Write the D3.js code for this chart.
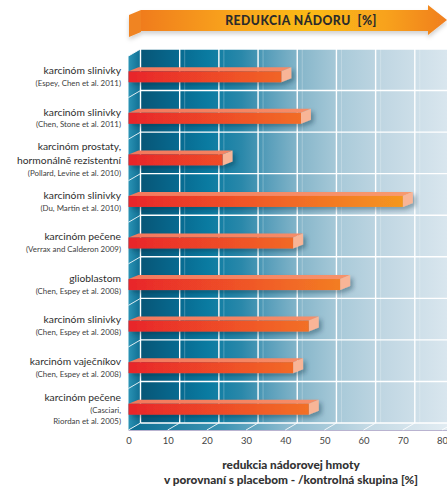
<!DOCTYPE html>
<html><head><meta charset="utf-8">
<script src="https://cdn.jsdelivr.net/npm/d3@7/dist/d3.min.js"></script>
<style>
html,body{margin:0;padding:0;background:#fff;}
svg{display:block;font-family:Lato,"Open Sans",sans-serif;}
</style></head>
<body>
<script>
// ---- data ----
const names = [
  ["karcinóm slinivky"],
  ["karcinóm slinivky"],
  ["karcinóm prostaty,", "hormonálně rezistentní"],
  ["karcinóm slinivky"],
  ["karcinóm pečene"],
  ["glioblastom"],
  ["karcinóm slinivky"],
  ["karcinóm vaječníkov"],
  ["karcinóm pečene"]
];
const refs = [
  ["(Espey, Chen et al. 2011)"],
  ["(Chen, Stone et al. 2011)"],
  ["(Pollard, Levine et al. 2010)"],
  ["(Du, Martin et al. 2010)"],
  ["(Verrax and Calderon 2009)"],
  ["(Chen, Espey et al. 2008)"],
  ["(Chen, Espey et al. 2008)"],
  ["(Chen, Espey et al. 2008)"],
  ["(Casciari,", "Riordan et al. 2005)"]
];
const values = [39, 44, 24, 70, 42, 54, 46, 42, 46];
const ticks = [0, 10, 20, 30, 40, 50, 60, 70, 80];
const headerText = "REDUKCIA NÁDORU  [%]";
const axisTitle = ["redukcia nádorovej hmoty", "v porovnaní s placebom - /kontrolná skupina [%]"];

// ---- layout ----
const W = 447, H = 488;
const depth = {dx: 12, dy: -7};
const bev = {dx: 10, dy: -4};
const x = d3.scaleLinear().domain([0, 80]).range([128.5, 442]);
const y = d3.scaleBand().domain(d3.range(values.length)).range([56, 430]).paddingInner(0);
const barH = 11;
const plotTop = y.range()[0], plotBot = y.range()[1];

const svg = d3.select("body").append("svg").attr("width", W).attr("height", H);
const defs = svg.append("defs");

function lin(id, stops, x1, x2, y1, y2) {
  const g = defs.append("linearGradient").attr("id", id).attr("gradientUnits", "userSpaceOnUse")
    .attr("x1", x1).attr("x2", x2).attr("y1", y1).attr("y2", y2);
  stops.forEach(s => g.append("stop").attr("offset", s[0]).attr("stop-color", s[1]));
}
const bx0 = x(0) + depth.dx;
lin("wall", [[0, "#075677"], [0.12, "#07698f"], [0.22, "#0a7ba1"], [0.33, "#2a88aa"], [0.42, "#5a9fbb"], [0.52, "#86b6ca"], [0.65, "#a9cad9"], [0.8, "#c1d7e3"], [1, "#d9e6ee"]], bx0, W, 0, 0);
lin("floor", [[0, "#0b6e92"], [0.3, "#3f95b4"], [0.5, "#8dbbcf"], [0.75, "#c3d9e4"], [1, "#e2ecf2"]], x(0), W, 0, 0);
lin("lwall", [[0, "#2a93b5"], [1, "#106e92"]], x(0), bx0, 0, 0);
lin("barFront", [[0, "#e82529"], [0.45, "#f05a28"], [1, "#f59a1e"]], x(0), x(72), 0, 0);
lin("barTop", [[0, "#f3775c"], [1, "#f89a6e"]], x(0), x(72), 0, 0);
lin("arrowBody", [[0, "#f07c1f"], [0.3, "#f9a51b"], [0.55, "#fbba18"], [0.8, "#f8a21b"], [1, "#f07e20"]], 141, 447, 0, 0);

const sh = defs.append("filter").attr("id", "shadow").attr("x", "-10%").attr("y", "-50%").attr("width", "130%").attr("height", "250%");
sh.append("feDropShadow").attr("dx", 3).attr("dy", 3).attr("stdDeviation", 2).attr("flood-color", "#0b2a3a").attr("flood-opacity", 0.35);
const sh2 = defs.append("filter").attr("id", "ashadow").attr("x", "-5%").attr("y", "-50%").attr("width", "110%").attr("height", "250%");
sh2.append("feDropShadow").attr("dx", 0).attr("dy", 3).attr("stdDeviation", 2).attr("flood-color", "#000").attr("flood-opacity", 0.18);

// ---- header arrow ----
const ah = svg.append("g").attr("filter", "url(#ashadow)");
ah.append("path").attr("d", "M129,15 L141,10 L141,32 L129,37 Z").attr("fill", "#f08421");
ah.append("path").attr("d", "M141,10 L428,10 L428,5 L447,20 L428,35 L428,31 L141,31 Z").attr("fill", "url(#arrowBody)");
svg.append("text").attr("x", 301).attr("y", 25).attr("text-anchor", "middle")
  .attr("font-size", 12.2).attr("font-weight", 900).attr("fill", "#2b2b2b").attr("letter-spacing", 0.5)
  .style("white-space", "pre").text(headerText);

// ---- 3D box ----
const fb = plotBot, bb = plotBot + depth.dy;
const ft = plotTop, bt = plotTop + depth.dy;
svg.append("rect").attr("x", bx0).attr("y", bt).attr("width", W - bx0).attr("height", bb - bt).attr("fill", "url(#wall)");
svg.append("path").attr("d", `M${x(0)},${ft} L${bx0},${bt} L${bx0},${bb} L${x(0)},${fb} Z`).attr("fill", "url(#lwall)");
svg.append("path").attr("d", `M${x(0)},${fb} L${bx0},${bb} L${W},${bb} L${W},${fb} Z`).attr("fill", "url(#floor)");
svg.append("line").attr("x1", x(0)).attr("x2", W).attr("y1", fb + 0.5).attr("y2", fb + 0.5).attr("stroke", "#b9b3d0").attr("stroke-width", 1);

const grid = svg.append("g");
ticks.forEach(t => {
  const xb = x(t) + depth.dx;
  if (t > 0) {
    grid.append("line").attr("x1", xb + 5).attr("x2", xb + 5).attr("y1", bt).attr("y2", bb)
      .attr("stroke", "#ffffff").attr("stroke-opacity", 0.25).attr("stroke-width", 1);
  }
  grid.append("line").attr("x1", xb).attr("x2", xb).attr("y1", bt).attr("y2", bb)
    .attr("stroke", "#fff").attr("stroke-width", 1.4);
  grid.append("line").attr("x1", x(t)).attr("y1", fb).attr("x2", xb).attr("y2", bb)
    .attr("stroke", "#fff").attr("stroke-width", 1).attr("stroke-opacity", 0.85);
});
const bounds = d3.range(values.length + 1).map(i => plotTop + i * y.bandwidth());
bounds.forEach((yb, i) => {
  if (i < values.length) {
    grid.append("line").attr("x1", bx0).attr("x2", W).attr("y1", yb + depth.dy).attr("y2", yb + depth.dy)
      .attr("stroke", "#fff").attr("stroke-width", 1.4);
    grid.append("line").attr("x1", x(0)).attr("y1", yb).attr("x2", bx0).attr("y2", yb + depth.dy)
      .attr("stroke", "#fff").attr("stroke-width", 1).attr("stroke-opacity", 0.85);
  }
});
grid.append("line").attr("x1", bx0).attr("x2", W).attr("y1", bb).attr("y2", bb).attr("stroke", "#fff").attr("stroke-width", 1.4);

// ---- bars ----
const bars = svg.append("g").selectAll("g").data(values).join("g").attr("filter", "url(#shadow)");
bars.each(function (v, i) {
  const g = d3.select(this);
  const cy = y(i) + y.bandwidth() / 2;
  const top = cy - barH / 2, bot = cy + barH / 2;
  const x0 = x(0), x1 = x(v);
  g.append("path").attr("d", `M${x0},${top} L${x0 + bev.dx},${top + bev.dy} L${x1 + bev.dx},${top + bev.dy} L${x1},${top} Z`).attr("fill", "url(#barTop)");
  g.append("path").attr("d", `M${x1},${top} L${x1 + bev.dx},${top + bev.dy} L${x1 + bev.dx},${bot + bev.dy} L${x1},${bot} Z`).attr("fill", "#f8b597");
  g.append("rect").attr("x", x0).attr("y", top).attr("width", x1 - x0).attr("height", barH).attr("fill", "url(#barFront)");
});

// ---- category labels ----
const lab = svg.append("g").attr("text-anchor", "end");
values.forEach((v, i) => {
  const cy = y(i) + y.bandwidth() / 2;
  const lines = names[i].map(t => ({t, s: 10.3})).concat(refs[i].map(t => ({t, s: 7.9, r: true})));
  const offs = [0];
  for (let k = 1; k < lines.length; k++) {
    const gap = (!lines[k - 1].r && !lines[k].r) ? 14 : (lines[k - 1].r && lines[k].r ? 11 : 12.8);
    offs.push(offs[k - 1] + gap);
  }
  const mid = (offs[0] + offs[offs.length - 1]) / 2;
  lines.forEach((l, k) => {
    lab.append("text").attr("x", 121).attr("y", cy + offs[k] - mid).attr("dy", "0.35em")
      .attr("font-size", l.s).attr("fill", l.r ? "#404040" : "#2e2e2e").text(l.t);
  });
});

// ---- x axis ----
const ax = svg.append("g").attr("transform", `translate(0,${fb + 7})`)
  .call(d3.axisBottom(x).tickValues(ticks).tickSize(0).tickPadding(0).tickFormat(d3.format("d")));
ax.select(".domain").remove();
ax.selectAll("text").attr("font-family", "Lato, sans-serif").attr("font-size", 9.5).attr("fill", "#444").attr("dy", "0.71em");

svg.append("text").attr("x", 291).attr("y", 469).attr("text-anchor", "middle").attr("font-size", 11.8).attr("font-weight", 900).attr("fill", "#333").text(axisTitle[0]);
svg.append("text").attr("x", 291).attr("y", 484).attr("text-anchor", "middle").attr("font-size", 11.8).attr("font-weight", 900).attr("fill", "#333").text(axisTitle[1]);
</script>
</body></html>
